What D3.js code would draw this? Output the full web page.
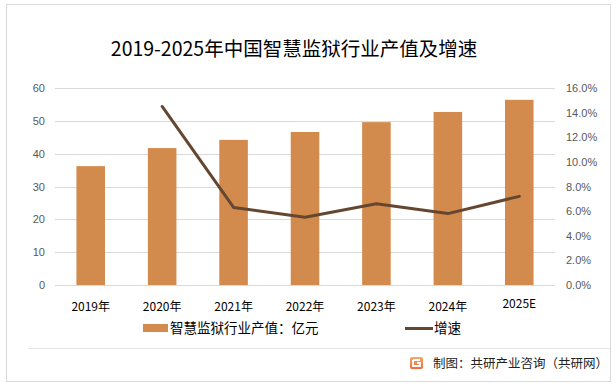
<!DOCTYPE html>
<html>
<head>
<meta charset="utf-8">
<script src="https://cdn.jsdelivr.net/npm/d3@7"></script>
<style>
  html, body { margin: 0; padding: 0; background: #fff; }
  svg { display: block; font-family: "Noto Sans CJK SC", "Noto Sans", sans-serif; }
</style>
</head>
<body>
<svg id="chart"></svg>
<script>
// 数据
const years = ["2019年", "2020年", "2021年", "2022年", "2023年", "2024年", "2025E"];
const outputValues = [36.2, 41.7, 44.2, 46.6, 49.6, 52.7, 56.4];
const growthRates = [null, 0.145, 0.063, 0.055, 0.066, 0.058, 0.072];
const leftTicks = [0, 10, 20, 30, 40, 50, 60];
const rightTicks = [0, 0.02, 0.04, 0.06, 0.08, 0.10, 0.12, 0.14, 0.16];

const titleText = "2019-2025年中国智慧监狱行业产值及增速";
const barLegend = "智慧监狱行业产值：亿元";
const lineLegend = "增速";
const sourceText = "制图：共研产业咨询（共研网）";

// 颜色
const barColor = "#d38b4d";
const lineColor = "#654731";
const gridColor = "#d9d9d9";
const axisTextColor = "#595959";

const width = 616;
const height = 389;
const margin = { top: 88, right: 61, bottom: 104, left: 55 };

const svg = d3.select("#chart")
  .attr("width", width)
  .attr("height", height)
  .attr("viewBox", `0 0 ${width} ${height}`);

// 外框
svg.append("rect")
  .attr("x", 6.5).attr("y", 4.5)
  .attr("width", 604).attr("height", 377)
  .attr("fill", "#fff")
  .attr("stroke", gridColor);

// 标题
svg.append("text")
  .attr("x", 294)
  .attr("y", 56)
  .attr("text-anchor", "middle")
  .style("font-size", "19.5px")
  .style("fill", "#000")
  .text(titleText);

const x = d3.scaleBand()
  .domain(years)
  .range([margin.left, width - margin.right])
  .paddingInner(0.6)
  .paddingOuter(0.3);

const yLeft = d3.scaleLinear()
  .domain([0, 60])
  .range([height - margin.bottom, margin.top]);

const yRight = d3.scaleLinear()
  .domain([0, 0.16])
  .range([height - margin.bottom, margin.top]);

// 网格线
svg.append("g")
  .selectAll("line")
  .data(leftTicks)
  .join("line")
  .attr("x1", margin.left)
  .attr("x2", width - margin.right)
  .attr("y1", (d) => Math.round(yLeft(d)) + 0.5)
  .attr("y2", (d) => Math.round(yLeft(d)) + 0.5)
  .attr("stroke", gridColor);

// 左轴
const leftAxis = svg.append("g")
  .attr("transform", `translate(${margin.left - 10},0)`)
  .call(d3.axisLeft(yLeft).tickValues(leftTicks).tickSize(0).tickPadding(0));
leftAxis.select(".domain").remove();
leftAxis.selectAll("text")
  .style("font-size", "11px")
  .style("font-family", "'Liberation Sans', sans-serif")
  .attr("fill", axisTextColor);

// 右轴
const rightAxis = svg.append("g")
  .attr("transform", `translate(${width - margin.right + 11},0)`)
  .call(d3.axisRight(yRight).tickValues(rightTicks).tickSize(0).tickPadding(0)
    .tickFormat(d3.format(".1%")));
rightAxis.select(".domain").remove();
rightAxis.selectAll("text")
  .style("font-size", "11px")
  .style("font-family", "'Liberation Sans', sans-serif")
  .attr("fill", axisTextColor);

// 柱子
svg.append("g")
  .selectAll("rect")
  .data(outputValues)
  .join("rect")
  .attr("x", (d, i) => x(years[i]))
  .attr("y", (d) => yLeft(d))
  .attr("width", x.bandwidth())
  .attr("height", (d) => yLeft(0) - yLeft(d))
  .attr("fill", barColor);

// X轴标签
svg.append("g")
  .selectAll("text")
  .data(years)
  .join("text")
  .attr("x", (d) => x(d) + x.bandwidth() / 2)
  .attr("y", (d) => d === "2025E" ? 308 : 311)
  .attr("text-anchor", "middle")
  .style("font-size", "12px")
  .style("fill", "#000")
  .text((d) => d);

// 增速折线
const linePoints = growthRates
  .map((v, i) => ({ year: years[i], value: v }))
  .filter((d) => d.value !== null);

svg.append("path")
  .datum(linePoints)
  .attr("fill", "none")
  .attr("stroke", lineColor)
  .attr("stroke-width", 3)
  .attr("stroke-linejoin", "round")
  .attr("stroke-linecap", "round")
  .attr("d", d3.line()
    .x((d) => x(d.year) + x.bandwidth() / 2)
    .y((d) => yRight(d.value)));

// 图例
svg.append("rect")
  .attr("x", 143).attr("y", 324)
  .attr("width", 25).attr("height", 8)
  .attr("fill", barColor);
svg.append("text")
  .attr("x", 170).attr("y", 333)
  .style("font-size", "13.5px")
  .style("fill", "#000")
  .text(barLegend);

svg.append("line")
  .attr("x1", 405).attr("x2", 433)
  .attr("y1", 328.5).attr("y2", 328.5)
  .attr("stroke", lineColor)
  .attr("stroke-width", 3);
svg.append("text")
  .attr("x", 434).attr("y", 333)
  .style("font-size", "13.5px")
  .style("fill", "#000")
  .text(lineLegend);

// 分隔线
svg.append("line")
  .attr("x1", 28).attr("x2", 610)
  .attr("y1", 348.5).attr("y2", 348.5)
  .attr("stroke", "#e6e6e6");

// 来源 logo
const defs = svg.append("defs");
const grad = defs.append("linearGradient")
  .attr("id", "logoGrad")
  .attr("x1", "0").attr("y1", "0").attr("x2", "0").attr("y2", "1");
grad.append("stop").attr("offset", "0").attr("stop-color", "#f6a86a");
grad.append("stop").attr("offset", "1").attr("stop-color", "#ee6a3a");

const logo = svg.append("g").attr("transform", "translate(410,357)");
logo.append("rect")
  .attr("width", 13).attr("height", 12)
  .attr("rx", 2)
  .attr("fill", "url(#logoGrad)");
logo.append("path")
  .attr("d", "M3,3 H10 M3,3 V9 H10 V6 H7")
  .attr("fill", "none")
  .attr("stroke", "#fff")
  .attr("stroke-width", 1.8);

svg.append("text")
  .attr("x", 433).attr("y", 368)
  .style("font-size", "12.5px")
  .style("fill", "#222")
  .text(sourceText);
</script>
</body>
</html>
